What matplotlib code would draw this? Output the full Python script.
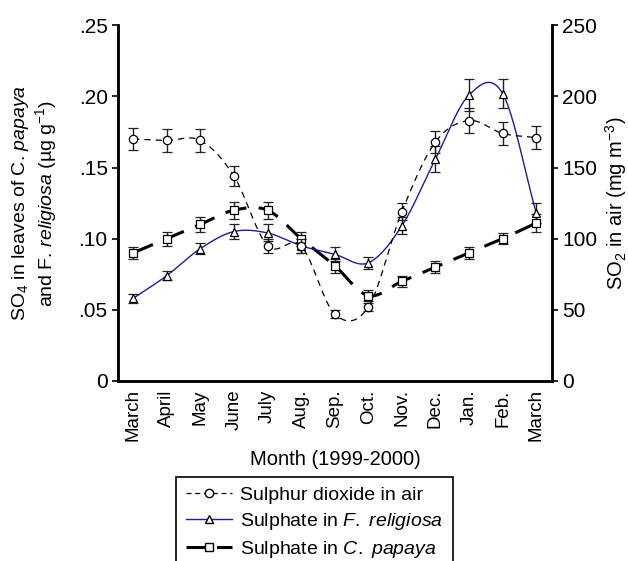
import matplotlib.pyplot as plt
import numpy as np
from matplotlib.lines import Line2D

months = ["March", "April", "May", "June", "July", "Aug.", "Sep.", "Oct.",
          "Nov.", "Dec.", "Jan.", "Feb.", "March"]

# SO2 in air (mg m-3), right axis
so2 = [170, 169, 169, 144, 95, 95, 47, 52, 119, 168, 183, 174, 171]
so2_err = [8, 8, 8, 7, 5, 5, 3, 3, 6, 8, 9, 8, 8]

# sulphate in F. religiosa (ug g-1), left axis
relig = [0.058, 0.074, 0.093, 0.105, 0.104, 0.095, 0.089, 0.083, 0.109, 0.156, 0.201, 0.202, 0.118]
relig_err = [0.003, 0.003, 0.004, 0.005, 0.006, 0.005, 0.005, 0.004, 0.006, 0.009, 0.011, 0.010, 0.007]

# sulphate in C. papaya (ug g-1), left axis
papaya = [0.090, 0.100, 0.110, 0.120, 0.120, 0.100, 0.081, 0.060, 0.070, 0.080, 0.090, 0.100, 0.111]
papaya_err = [0.004, 0.005, 0.005, 0.006, 0.006, 0.005, 0.005, 0.004, 0.004, 0.004, 0.004, 0.004, 0.006]

fam = "Liberation Sans"
plt.rcParams['font.family'] = [fam, 'DejaVu Sans']
plt.rcParams['mathtext.fontset'] = 'custom'
plt.rcParams['mathtext.rm'] = fam
plt.rcParams['mathtext.it'] = fam + ':italic'


def smooth(x, y, n=20):
    # Catmull-Rom curve through the points
    x = np.asarray(x, float)
    y = np.asarray(y, float)
    px = np.concatenate([[2 * x[0] - x[1]], x, [2 * x[-1] - x[-2]]])
    py = np.concatenate([[2 * y[0] - y[1]], y, [2 * y[-1] - y[-2]]])
    xs, ys = [], []
    t = np.linspace(0, 1, n, endpoint=False)
    for i in range(1, len(px) - 2):
        for p, out in ((px, xs), (py, ys)):
            p0, p1, p2, p3 = p[i - 1], p[i], p[i + 1], p[i + 2]
            out.extend(0.5 * (2 * p1 + (-p0 + p2) * t + (2 * p0 - 5 * p1 + 4 * p2 - p3) * t ** 2
                              + (-p0 + 3 * p1 - 3 * p2 + p3) * t ** 3))
    xs.append(x[-1])
    ys.append(y[-1])
    return np.array(xs), np.array(ys)


x = np.arange(len(months))

fig = plt.figure(figsize=(6.28, 5.61), dpi=100)
ax = fig.add_axes([0.188, 0.321, 0.691, 0.634])
ax2 = ax.twinx()

blue = '#1c1c9c'

# C. papaya
sx, sy = smooth(x, papaya)
ax.plot(sx, sy, color='black', lw=2.2, dashes=(7, 4), zorder=3)
ax.errorbar(x, papaya, yerr=papaya_err, fmt='s', ms=5.5, mfc='white', mec='black',
            mew=0.9, ecolor='#222222', elinewidth=1, capsize=3.5, zorder=4)

# F. religiosa
sx, sy = smooth(x, relig)
ax.plot(sx, sy, color=blue, lw=1, zorder=3)
ax.errorbar(x, relig, yerr=relig_err, fmt='^', ms=6, mfc='white', mec='black',
            mew=0.9, ecolor='#222222', elinewidth=1, capsize=3.5, zorder=4)

# SO2
sx, sy = smooth(x, so2)
ax2.plot(sx, sy, color='black', lw=0.9, dashes=(5, 4), zorder=3)
ax2.errorbar(x, so2, yerr=so2_err, fmt='o', ms=6, mfc='white', mec='black',
             mew=0.9, ecolor='#222222', elinewidth=1, capsize=3.5, zorder=4)

ax.set_xlim(-0.45, 12.47)
ax.set_ylim(0, 0.25)
ax2.set_ylim(0, 250)

ax.set_yticks([0, 0.05, 0.10, 0.15, 0.20, 0.25])
ax.set_yticklabels(["0", ".05", ".10", ".15", ".20", ".25"])
ax2.set_yticks([0, 50, 100, 150, 200, 250])
ax.set_xticks(x)
ax.set_xticklabels(months, rotation=90)

for a in (ax, ax2):
    a.spines['top'].set_visible(False)
    for s in a.spines.values():
        s.set_linewidth(1.8)
    a.tick_params(axis='y', labelsize=15, width=1.2, length=4)
ax.tick_params(axis='x', length=0, pad=6, labelsize=13.5)

ax.set_ylabel("SO$_4$ in leaves of C. $\\mathit{papaya}$\nand F. $\\mathit{religiosa}$ (µg g$^{-1}$)",
              fontsize=14, linespacing=1.1, labelpad=14)
ax2.set_ylabel("SO$_2$ in air (mg m$^{-3}$)", fontsize=14.5, labelpad=4)
ax.set_xlabel("Month (1999-2000)", fontsize=14.5, labelpad=6)

handles = [
    Line2D([], [], color='black', lw=0.9, dashes=(4, 3), marker='o', ms=6, mfc='white', mec='black'),
    Line2D([], [], color=blue, lw=1, marker='^', ms=6, mfc='white', mec='black'),
    Line2D([], [], color='black', lw=2.2, dashes=(7, 3), marker='s', ms=5.5, mfc='white', mec='black'),
]
labels = ["Sulphur dioxide in air",
          "Sulphate in $\\mathit{F.\\ religiosa}$",
          "Sulphate in $\\mathit{C.\\ papaya}$"]
leg = fig.legend(handles, labels, loc='upper left', bbox_to_anchor=(0.28, 0.15),
                 fontsize=14, frameon=True, fancybox=False, edgecolor='black',
                 framealpha=1, handlelength=2.4, borderaxespad=0, labelspacing=0.35,
                 handletextpad=0.4, borderpad=0.5)
leg.get_frame().set_linewidth(1.2)

fig.savefig("out.png", dpi=100)
